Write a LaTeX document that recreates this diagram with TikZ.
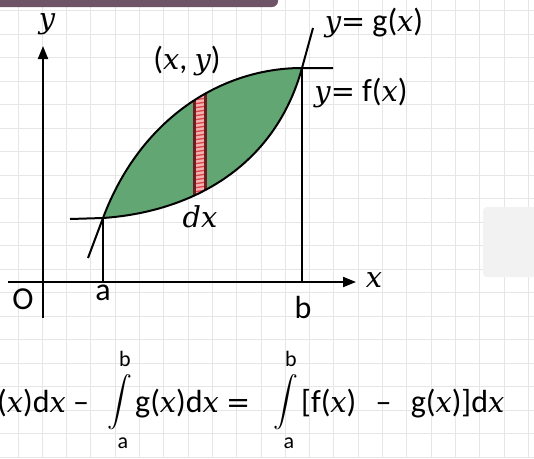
\RequirePackage{fix-cm}
\documentclass[tikz,border=0pt]{standalone}
\usepackage{amsmath}
\usepackage{fontspec}
\setmainfont{Carlito}
\newfontfamily\varfont{DejaVu Serif}[Scale=0.9]
\newcommand{\itv}[1]{{\varfont\itshape #1}}
\newcommand{\eqs}{{\varfont =}}
\usetikzlibrary{arrows.meta,positioning}
\definecolor{leafgreen}{HTML}{62A673}
\definecolor{stripfill}{HTML}{F6B3B3}
\definecolor{stripline}{HTML}{D9474B}
\definecolor{stripedge}{HTML}{6A1E22}
\definecolor{bannerpurple}{HTML}{6D5466}
\definecolor{gridgray}{HTML}{E6E6E6}
\newcommand{\leafpath}{(A) .. controls (140.5,118) and (222,68) .. (B)
  .. controls (274.5,168) and (190,212) .. (A) -- cycle}

\begin{document}
\begin{tikzpicture}[x=1pt,y=-1pt,
  every node/.style={inner sep=0pt, font=\fontsize{32}{34}\selectfont},
  axis/.style={line width=2pt, -{Triangle[length=13pt,width=10pt]}},
  curve/.style={line width=2pt},
  guide/.style={line width=2pt},
  eqtext/.style={font=\fontsize{32}{34}\selectfont},
  intsign/.style={font=\fontsize{38}{40}\selectfont},
  limtext/.style={font=\fontsize{22}{24}\selectfont}]

  \useasboundingbox (0,0) rectangle (534,458);
  \clip (0,0) rectangle (534,458);

  % grid paper
  \foreach \i in {0,...,21}
    \draw[gridgray, line width=1pt] (18+24.3*\i,0) -- (18+24.3*\i,458);
  \foreach \j in {0,...,19}
    \draw[gridgray, line width=1pt] (0,10.5+23.5*\j) -- (534,10.5+23.5*\j);

  % banner and watermark
  \fill[bannerpurple, rounded corners=6pt] (-10,-10) rectangle (278,7);
  \fill[gray!10, rounded corners=4pt] (483,207) rectangle (545,277);

  \coordinate (A) at (103,218);
  \coordinate (B) at (302,68);
  \coordinate (fstart) at (88,258);
  \coordinate (fend) at (333,68);
  \coordinate (gstart) at (70,219);
  \coordinate (gend) at (313,28);
  \coordinate (a) at (103,282);
  \coordinate (b) at (302,282);

  % region between the curves
  \fill[leafgreen] \leafpath;
  \begin{scope}
    \clip \leafpath;
    \fill[stripfill] (193,40) rectangle (207,240);
    \foreach \k in {0,...,50}
      \draw[stripline, line width=1.4pt] (193,60+4*\k) -- (207,58+4*\k);
    \draw[stripedge, line width=3pt] (194.5,40) -- (194.5,240)
      (205.5,40) -- (205.5,240);
  \end{scope}

  \draw[curve] (fstart) -- (A) .. controls (140.5,118) and (222,68) .. (B) -- (fend);
  \draw[curve] (gstart) -- (A) .. controls (190,212) and (274.5,168) .. (B) -- (gend);
  \draw[guide] (a) -- (A);
  \draw[guide] (b) -- (B);

  % axes
  \coordinate (xfrom) at (8,282);
  \coordinate (xto) at (356,282);
  \coordinate (yfrom) at (43,318);
  \coordinate (yto) at (43,46);
  \draw[axis] (xfrom) -- (xto);
  \draw[axis] (yfrom) -- (yto);

  \node (ylab) at (47,24) {\itv{y}};
  \node (xlab) at (374,280) {\itv{x}};
  \node (olab) at (23,299) {O};
  \node (alab) at (103,293) {a};
  \node (blab) at (303,307) {b};
  \node (ptlab) at (187,61) {(\itv{x}, \itv{y})};
  \node (dxlab) at (200,217) {\itv{dx}};
  \node (glab) at (374,23) {\itv{y}\eqs{} g(\itv{x})};
  \node (flab) at (361,93) {\itv{y}\eqs{} f(\itv{x})};

  % area formula
  \node[eqtext, anchor=base west] (lhs) at (-3,412) {(\itv{x})d\itv{x} --};
  \node[intsign, anchor=base] (int1) at (120,412) {$\displaystyle\int$};
  \node[limtext, above=8pt of int1, xshift=5pt] (b1) {b};
  \node[limtext, below=7pt of int1, xshift=3pt] (a1) {a};
  \node[eqtext, anchor=base west] (mid) at (135,412) {g(\itv{x})d\itv{x} \eqs};
  \node[intsign, anchor=base] (int2) at (286,412) {$\displaystyle\int$};
  \node[limtext, above=8pt of int2, xshift=5pt] (b2) {b};
  \node[limtext, below=7pt of int2, xshift=3pt] (a2) {a};
  \node[eqtext, anchor=base west] (rhs) at (301,412)
    {[f(\itv{x})\hspace{0.6em}--\hspace{0.6em}g(\itv{x})]d\itv{x}};

\end{tikzpicture}
\end{document}
